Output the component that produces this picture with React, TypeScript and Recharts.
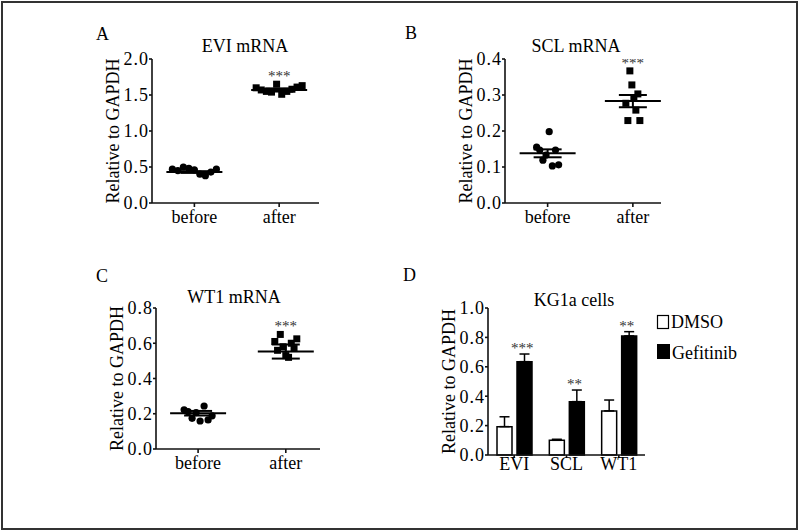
import React from 'react';
import { ComposedChart, Scatter, Bar, XAxis, YAxis, ErrorBar } from 'recharts';

const groups = ['before', 'after'];

// A - EVI mRNA
const eviBefore = [0.47, 0.45, 0.5, 0.48, 0.46, 0.4, 0.38, 0.43, 0.47];
const eviAfter = [1.6, 1.57, 1.55, 1.54, 1.65, 1.51, 1.55, 1.58, 1.61, 1.63];
const eviMean = [0.43, 1.57];
const eviSem = [0.012, 0.022];
const eviTicks = [0, 0.5, 1.0, 1.5, 2.0];

// B - SCL mRNA
const sclBefore = [0.155, 0.147, 0.119, 0.133, 0.198, 0.103, 0.147, 0.106];
const sclAfter = [0.277, 0.229, 0.367, 0.328, 0.291, 0.258, 0.303, 0.229];
const sclMean = [0.138, 0.283];
const sclSem = [0.011, 0.017];
const sclTicks = [0, 0.1, 0.2, 0.3, 0.4];

// C - WT1 mRNA
const wt1Before = [0.222, 0.212, 0.174, 0.206, 0.159, 0.244, 0.165, 0.188];
const wt1After = [0.61, 0.56, 0.65, 0.58, 0.53, 0.52, 0.6, 0.57, 0.625];
const wt1Mean = [0.203, 0.553];
const wt1Sem = [0.013, 0.04];
const wt1Ticks = [0, 0.2, 0.4, 0.6, 0.8];

// D - KG1a cells
const genes = ['EVI', 'SCL', 'WT1'];
const dmso = [0.193, 0.1, 0.3];
const dmsoErr = [0.067, 0.007, 0.074];
const gefitinib = [0.635, 0.363, 0.81];
const gefitinibErr = [0.052, 0.079, 0.029];
const stars = ['***', '**', '**'];
const kgTicks = [0, 0.2, 0.4, 0.6, 0.8, 1.0];

const FONT = '"Liberation Serif", "Times New Roman", serif';
const INK = '#111';
const tickStyle = { fontSize: 18, fill: '#000', fontFamily: FONT };
const numTickStyle = { ...tickStyle, letterSpacing: 1 };

const YLabel = ({ viewBox }: any) => {
  const cx = viewBox.x + viewBox.width - 39;
  const cy = viewBox.y + viewBox.height / 2;
  return (
    <text
      x={cx}
      y={cy}
      transform={`rotate(-90 ${cx} ${cy})`}
      textAnchor="middle"
      dominantBaseline="central"
      fontSize={18}
      fontFamily={FONT}
      fill="#000"
    >
      Relative to GAPDH
    </text>
  );
};

// spread the dots of one group sideways, by their order in the list
const dotShape = (kind: string, spread: number) => (props: any) => {
  const { cx, cy, payload } = props;
  const off = payload.n > 1 ? (payload.k / (payload.n - 1) - 0.5) * 2 * spread : 0;
  const x = cx + off;
  if (kind === 'circle') return <circle cx={x} cy={cy} r={3.6} fill="#000" />;
  return <rect x={x - 3.5} y={cy - 3.5} width={7} height={7} fill="#000" />;
};

const meanShape = (props: any) => (
  <line x1={props.cx - 28} x2={props.cx + 28} y1={props.cy} y2={props.cy} stroke="#000" strokeWidth={2} />
);

const starShape = (dx: number, dy: number) => (props: any) => (
  <text
    x={props.cx + dx}
    y={props.cy + dy}
    textAnchor="middle"
    fontSize={15}
    fontFamily={FONT}
    fill="#333"
  >
    {props.payload.label}
  </text>
);

const toRows = (vals: number[], x: number) => vals.map((v, k) => ({ x, y: v, k, n: vals.length }));

type ScatterProps = {
  before: number[];
  after: number[];
  mean: number[];
  sem: number[];
  ticks: number[];
  xDomain: number[];
  spread: number[];
  box: { left: number; top: number; width: number; height: number };
  margin: { top: number; right: number; bottom: number; left: number };
};

const DotPanel = ({ before, after, mean, sem, ticks, xDomain, spread, box, margin }: ScatterProps) => {
  const meanRows = mean.map((m, i) => ({ x: i, y: m, e: sem[i] }));
  const starRows = [{ x: 1, y: Math.max(...after), label: '***' }];
  return (
    <div style={{ position: 'absolute', left: box.left, top: box.top }}>
      <ComposedChart width={box.width} height={box.height} margin={margin}>
        <XAxis
          type="number"
          dataKey="x"
          domain={xDomain}
          ticks={[0, 1]}
          tickFormatter={(v: number) => groups[v]}
          tick={tickStyle}
          tickSize={4}
          tickMargin={3}
          height={30}
          stroke={INK}
          strokeWidth={1.6}
          allowDataOverflow
        />
        <YAxis
          type="number"
          dataKey="y"
          domain={[ticks[0], ticks[ticks.length - 1]]}
          ticks={ticks}
          tickFormatter={(v: number) => v.toFixed(1)}
          tick={numTickStyle}
          tickSize={3}
          tickMargin={0}
          width={50}
          stroke={INK}
          strokeWidth={1.6}
          allowDataOverflow
          label={<YLabel />}
        />
        <Scatter data={toRows(before, 0)} dataKey="y" shape={dotShape('circle', spread[0])} isAnimationActive={false} />
        <Scatter data={toRows(after, 1)} dataKey="y" shape={dotShape('square', spread[1])} isAnimationActive={false} />
        <Scatter data={meanRows} dataKey="y" shape={meanShape} isAnimationActive={false}>
          <ErrorBar dataKey="e" direction="y" width={14} stroke="#000" strokeWidth={2} isAnimationActive={false} />
        </Scatter>
        <Scatter data={starRows} dataKey="y" shape={starShape(0, -3)} isAnimationActive={false} />
      </ComposedChart>
    </div>
  );
};

const barRows = genes.map((g, i) => ({
  name: g,
  dmso: dmso[i],
  dmsoE: [0, dmsoErr[i]],
  gef: gefitinib[i],
  gefE: [0, gefitinibErr[i]],
  top: gefitinib[i] + gefitinibErr[i],
  label: stars[i],
}));

const BarPanel = () => (
  <div style={{ position: 'absolute', left: 390, top: 260 }}>
    <ComposedChart
      width={260}
      height={230}
      data={barRows}
      margin={{ top: 48, right: 5, bottom: 5, left: 48 }}
      barCategoryGap={9}
      barGap={5}
    >
      <XAxis
        dataKey="name"
        tick={tickStyle}
        tickSize={3}
        tickMargin={-1}
        height={30}
        stroke={INK}
        strokeWidth={1.6}
      />
      <YAxis
        domain={[0, 1]}
        ticks={kgTicks}
        tickFormatter={(v: number) => v.toFixed(1)}
        tick={numTickStyle}
        tickSize={3}
        tickMargin={0}
        width={50}
        stroke={INK}
        strokeWidth={1.6}
        label={<YLabel />}
      />
      <Bar dataKey="dmso" fill="#fff" stroke="#000" strokeWidth={1.5} isAnimationActive={false}>
        <ErrorBar dataKey="dmsoE" direction="y" width={5} stroke="#000" strokeWidth={1.5} isAnimationActive={false} />
      </Bar>
      <Bar dataKey="gef" fill="#000" stroke="#000" strokeWidth={1.5} isAnimationActive={false}>
        <ErrorBar dataKey="gefE" direction="y" width={5} stroke="#000" strokeWidth={1.5} isAnimationActive={false} />
      </Bar>
      <Scatter dataKey="top" shape={starShape(8, -1)} isAnimationActive={false} />
    </ComposedChart>
  </div>
);

const txt = { fontFamily: FONT, fontSize: 18, fill: '#000' };

export default function App() {
  return (
    <div style={{ position: 'absolute', left: 0, top: 0, width: 800, height: 532, background: '#fff', fontFamily: FONT }}>
      <div
        style={{
          position: 'absolute',
          left: 1,
          top: 1,
          width: 797,
          height: 529,
          boxSizing: 'border-box',
          border: '2px solid #333',
        }}
      />
      <DotPanel
        before={eviBefore}
        after={eviAfter}
        mean={eviMean}
        sem={eviSem}
        ticks={eviTicks}
        xDomain={[-0.5, 1.47]}
        spread={[22, 23]}
        box={{ left: 60, top: 20, width: 280, height: 220 }}
        margin={{ top: 39, right: 21, bottom: 7, left: 42 }}
      />
      <DotPanel
        before={sclBefore}
        after={sclAfter}
        mean={sclMean}
        sem={sclSem}
        ticks={sclTicks}
        xDomain={[-0.5, 1.33]}
        spread={[11, 7]}
        box={{ left: 380, top: 20, width: 300, height: 220 }}
        margin={{ top: 39, right: 19, bottom: 7, left: 75 }}
      />
      <DotPanel
        before={wt1Before}
        after={wt1After}
        mean={wt1Mean}
        sem={wt1Sem}
        ticks={wt1Ticks}
        xDomain={[-0.48, 1.39]}
        spread={[14, 11]}
        box={{ left: 60, top: 260, width: 280, height: 230 }}
        margin={{ top: 48, right: 20, bottom: 11, left: 46 }}
      />
      <BarPanel />
      <svg width={800} height={532} style={{ position: 'absolute', left: 0, top: 0, pointerEvents: 'none' }}>
        <text x={96} y={40} {...txt}>A</text>
        <text x={245} y={52} textAnchor="middle" {...txt}>EVI mRNA</text>
        <text x={405} y={39} {...txt}>B</text>
        <text x={576} y={52} textAnchor="middle" {...txt}>SCL mRNA</text>
        <text x={96} y={282} {...txt}>C</text>
        <text x={234} y={303} textAnchor="middle" {...txt}>WT1 mRNA</text>
        <text x={403} y={281} {...txt}>D</text>
        <text x={574} y={306} textAnchor="middle" {...txt}>KG1a cells</text>
        <rect x={657.5} y={315.5} width={11} height={13} fill="#fff" stroke="#000" strokeWidth={1.2} />
        <text x={671} y={328} {...txt}>DMSO</text>
        <rect x={657} y={344} width={13} height={15} fill="#000" />
        <text x={672} y={359} {...txt}>Gefitinib</text>
      </svg>
    </div>
  );
}
